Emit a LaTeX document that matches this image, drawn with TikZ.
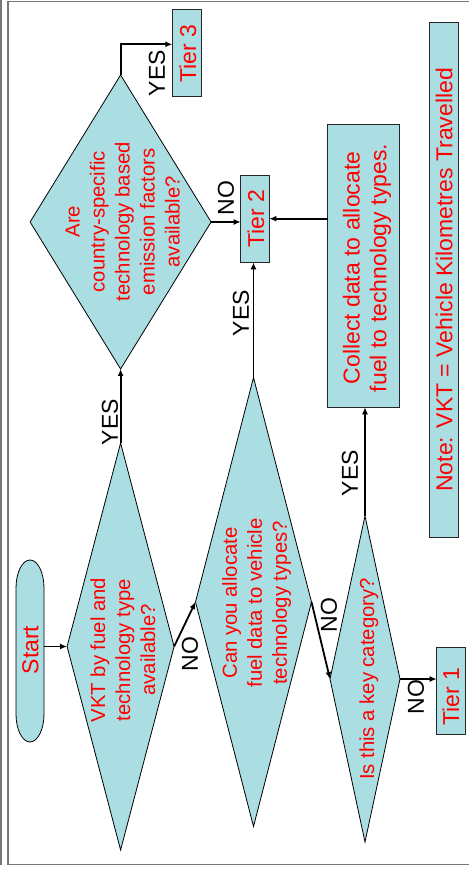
\documentclass[tikz,border=0pt]{standalone}
\usepackage{fontspec}
\setmainfont{Liberation Sans}
\usetikzlibrary{shapes.geometric,arrows.meta,calc}

\definecolor{boxfill}{RGB}{170,222,226}
\definecolor{framegray}{RGB}{120,120,120}

\tikzset{
  decision/.style={diamond, draw=black, line width=0.8pt, fill=boxfill,
                   inner sep=0pt, outer sep=0pt},
  box/.style={rectangle, draw=black!85, line width=1pt, fill=boxfill,
              inner sep=0pt, outer sep=0pt},
  decisiontext/.style={rotate=90, text=red, align=center, inner sep=0pt,
                       font=\fontsize{20.3}{25}\selectfont},
  boxtext/.style={rotate=90, text=red, align=center, inner sep=0pt,
                  font=\fontsize{23}{26.7}\selectfont},
  answer/.style={rotate=90, text=black, inner sep=0pt,
                 font=\fontsize{23}{26}\selectfont},
  flow/.style={line width=1.8pt, -{Latex[length=7pt,width=6pt]}},
}

\begin{document}
\begin{tikzpicture}[x=1pt,y=1pt]
  \useasboundingbox (0,0) rectangle (469,870);

  % page frame
  \draw[framegray, line width=1.5pt] (0.8,870) -- (0.8,5);
  \draw[framegray, line width=1.5pt] (469,868.5) -- (7.8,868.5) -- (7.8,5.5) -- (469,5.5);

  % start terminal (stadium with elliptic ends)
  \node[minimum width=28pt, minimum height=182pt, inner sep=0pt, outer sep=0pt] (start) at (30,219) {};
  \draw[draw=black, line width=0.8pt, fill=boxfill]
    ([yshift=-28pt]start.north west) arc[start angle=180, end angle=0, x radius=14pt, y radius=28pt]
    -- ([yshift=28pt]start.south east) arc[start angle=0, end angle=-180, x radius=14pt, y radius=28pt]
    -- cycle;
  \node[boxtext] (startt) at (30.5,220) {Start};

  % decisions
  \node[decision, minimum width=107pt, minimum height=407pt] (d1) at (120.6,223.5) {};
  \node[decision, minimum width=116pt, minimum height=449pt] (d2) at (253.5,268) {};
  \node[decision, minimum width=70pt,  minimum height=326pt] (d3) at (365,191) {};
  \node[decision, minimum width=181pt, minimum height=294pt] (d4) at (120.6,648) {};

  \node[decisiontext] (d1t) at (122.8,220) {VKT by fuel and\\technology type\\available?};
  \node[decisiontext] (d2t) at (256.6,267) {Can you allocate\\fuel data to vehicle\\technology types?};
  \node[decisiontext] (d3t) at (368.8,191) {Is this a key category?};
  \node[decisiontext] (d4t) at (122.8,648.3) {Are\\country-specific\\technology based\\emission factors\\available?};

  % outcome boxes
  \node[box, minimum width=29.4pt, minimum height=87.4pt] (tier3) at (187,817) {};
  \node[box, minimum width=28.6pt, minimum height=87.3pt] (tier2) at (255,651.3) {};
  \node[box, minimum width=28.6pt, minimum height=86.7pt] (tier1) at (451,179.3) {};
  \node[box, minimum width=72.3pt, minimum height=283pt] (collect) at (363.8,604.2) {};
  \node[box, minimum width=29.3pt, minimum height=515pt] (note) at (443.7,589.8) {};

  \node[boxtext] (tier3t) at (187.8,816) {Tier 3};
  \node[boxtext] (tier2t) at (255.8,651) {Tier 2};
  \node[boxtext] (tier1t) at (450.8,173.3) {Tier 1};
  \node[boxtext] (collectt) at (367,602) {Collect data to allocate\\fuel to technology types.};
  \node[boxtext] (notet) at (444.2,590.2) {Note: VKT = Vehicle Kilometres Travelled};

  % connectors
  \coordinate (t3in) at ([yshift=8.7pt]tier3.west);
  \draw[flow] (start.east |- d1.west) -- (d1.west);
  \draw[flow] (d1.north) -- (d4.south);
  \draw[flow] (d4.north) |- (t3in);
  \draw[flow] (d4.east) -- (d4.east -| tier2.west);
  \draw[flow] (d2.north) -- (d2.north |- tier2.south);
  \draw[flow] (collect.west |- tier2.east) -- (tier2.east);
  \draw[flow] (d3.north) -- (d3.north |- collect.south);
  \draw[flow] (d1.east) -- (d2.west);
  \draw[flow] (d2.east) -- (d3.west);
  \draw[flow] (d3.east) -- (d3.east -| tier1.west);

  % answers
  \node[answer] (yes1) at (110,448) {YES};
  \node[answer] (yes2) at (157,796.7) {YES};
  \node[answer] (no1)  at (226,672) {NO};
  \node[answer] (yes3) at (241,557) {YES};
  \node[answer] (yes4) at (350,397) {YES};
  \node[answer] (no2)  at (190,216) {NO};
  \node[answer] (no3)  at (329,255) {NO};
  \node[answer] (no4)  at (416,173) {NO};
\end{tikzpicture}
\end{document}
